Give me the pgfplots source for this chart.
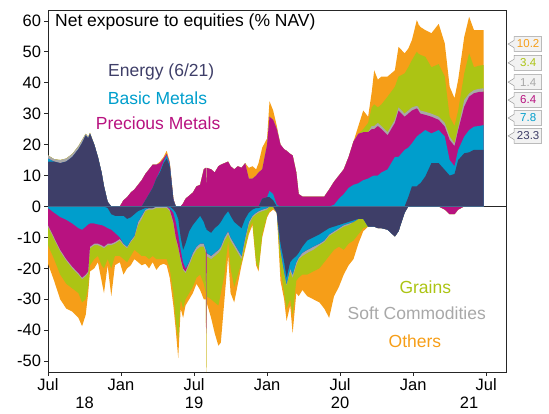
\documentclass[border=0pt]{standalone}
\usepackage{fontspec}
\setmainfont{Liberation Sans}
\usepackage{pgfplots}
\pgfplotsset{compat=1.18}
\usepackage{pgfplotstable}
\usetikzlibrary{calc}

\definecolor{cEn}{RGB}{62,62,104}
\definecolor{cBa}{RGB}{0,158,204}
\definecolor{cPr}{RGB}{184,18,128}
\definecolor{cSo}{RGB}{168,168,168}
\definecolor{cGr}{RGB}{172,196,20}
\definecolor{cOt}{RGB}{246,158,24}
\definecolor{cZero}{RGB}{70,105,140}

% cumulative boundaries: P1..P6 = tops of Energy, Basic Metals, Precious Metals, Soft, Grains, Others (long side)
% N1..N6 = bottoms of the same (short side); t = months since 1 Jul 2018
\pgfplotstableread{
t     P1   P2   P3   P4   P5   P6    N1    N2    N3    N4    N5    N6
0.0   14.5 15.5 15.5 16.5 16.5 16.5  0     -0.5  -6    -6.5  -12.5 -18.5
0.5   14.5 14.5 14.5 15.3 15.3 15.3  0     -2    -10   -10.5 -17   -24
1.0   14   14   14   15   15   15    0     -3.4  -14   -14.5 -22   -30
1.5   14.5 14.5 14.5 15.5 15.5 15.5  0     -4.3  -17   -17.5 -25   -33
2.0   16   16   16   17   17   17    0     -5.5  -19.5 -20   -26.5 -34
2.5   18.5 18.5 18.5 19.5 19.5 19.5  0     -7    -21.5 -22   -28   -36
2.8   20.5 20.5 20.5 21.5 21.5 21.5  0     -7.5  -23   -23.5 -31   -38.7
3.1   23   23   23   23.5 23.5 23.5  0     -6.5  -22   -22.5 -30   -35
3.3   22   22   22   22.5 22.5 22.5  0     -5.8  -21   -21.5 -26   -28
3.45  23.5 23.5 23.5 23.8 23.8 23.8  0     -5.5  -13   -13.5 -19   -21
3.8   20   20   20   20   20   20    0     -5.5  -12   -12.5 -17   -20
4.1   16   16   16   16   16   16    0     -5.8  -12   -12.5 -16   -18
4.4   11   11   11   11   11   11    0     -6    -12.5 -13   -19   -24
4.6   6.5  6.5  6.5  6.5  6.5  6.5   0     -6.3  -13   -13.5 -20   -28
4.9   1.5  1.5  1.5  1.5  1.5  1.5   -0.5  -7    -12   -12.5 -17   -19
5.2   0    0    0    0    0    0     -2.5  -7.5  -12   -12.5 -20   -29
5.5   0    0    0    0    0    0     -3    -8.5  -11.5 -12   -16   -19
5.9   0    0    0    0    0    0     -3    -10   -10.5 -11   -16   -18
6.2   0    0    2    2    2    2     -3    -12   -12   -12.5 -17   -22
6.5   0    0    3    3    3    3     -4    -13   -13   -13.5 -18   -20
6.8   0    0    4.5  4.5  4.5  4.5   -3.5  -11   -11   -11.5 -16   -19
7.1   0    0    5.5  5.5  5.5  5.5   -2.5  -9.5  -9.5  -10   -14   -17
7.4   0    0    7    7    7    7     -1.5  -5    -5    -6    -15   -18
7.7   0    0    8.5  8.5  8.5  8.5   -1    -3    -3    -4    -16   -19
8.0   2    2    10.5 10.5 10.5 10.5  -0.5  -1    -1    -1.5  -16   -18.5
8.3   4    4    12   12   12   12    -0.5  -0.5  -0.5  -1    -17   -20
8.6   6    6    13.5 13.5 13.5 13.5  -0.5  -0.5  -0.5  -1    -16   -18
8.9   9    9    13.5 13.5 13.5 13.5  0     0     0     -0.5  -17   -20.5
9.2   11   11.5 14   14   14   14.5  0     0     0     -0.5  -17   -19
9.5   14   14.5 15.5 15.5 15.5 16    0     0     0     -0.5  -17   -18.5
9.75  15.5 16.5 17   17   17   18    0     0     0     -0.5  -17   -19
10.0  13   13.5 14   14   14   14.5  0     -0.5  -1    -1.5  -20   -23
10.3  2    2    2.5  2.5  2.5  2.5   -1    -2    -5    -5.5  -28   -32
10.5  0    0    0    0    0    0     -2    -5    -10   -10.5 -37   -40
10.7  0    0    0    0    0    0     -4    -9    -13   -13.5 -43   -49
10.9  0    0    0    0    0    0     -10   -14   -17   -17.5 -30   -33
11.1  0    0    1    1    1    1     -14   -18   -20   -20.5 -33   -36
11.3  0    0    2.5  2.5  2.5  2.5   -12   -20   -21   -21.5 -30   -32
11.6  0    0    3.5  3.5  3.5  3.5   -8    -18   -18   -19   -28   -30
11.9  0    0    4.5  4.5  4.5  4.5   -6    -15   -15   -16   -26   -28
12.2  0    0    6.5  6.5  6.5  6.5   -4.5  -13   -13   -14   -23   -25
12.5  0    0    7    7    7    7     -3    -12   -12   -13   -22   -27
12.8  0    0    12   12   12   12    -5    -12   -12   -13   -25   -30
12.97 0    0    12.5 12.5 12.5 12.5  -7    -14   -14   -15   -28   -30
13.0  0    0    0    0    0    0     -7    -14   -41   -41   -53.5 -53.5
13.03 0    0    12.5 12.5 12.5 12.5  -7.5  -15   -15   -16   -29   -31
13.4  0    0    12   12   12   12    -8.5  -16   -16   -17   -30   -36
13.7  0    0    11   11   11   11    -7    -15   -15   -16   -31   -41
14.0  0    0    13   13   13   13    -6    -14   -14   -15   -32   -45
14.2  0    0    13.5 13.5 13.5 13.5  -5    -13   -13   -14   -28   -44
14.5  0    0    14   14   14   14    -3    -10   -10   -11   -22   -30
14.8  0    0    14.5 14.5 14.5 14.5  -1.5  -8    -8    -9    -11   -16
15.0  0    0    13   13   13   13    -3    -10   -10   -11   -20   -28
15.3  0    0    12   12   12   12    -5    -12   -12   -13   -26   -31
15.6  0    0    13   13   13   13    -6    -14   -14   -15   -22   -25
15.9  0    0    12.5 12.5 12.5 12.5  -7    -16   -16   -17   -18   -19
16.2  0    0    14   14   14   14    -4    -10   -10   -11   -13   -14
16.5  0    0    9    9    9    12.5  -2    -5    -5    -6    -8    -9
16.8  0    0    9    9    9    13    -1    -3    -3    -3.5  -5    -6
17.1  0    0    10   10   10   12    -0.5  -2    -2    -2.5  -18   -19
17.3  0    0    11   11   11   14    -0.5  -1.5  -1.5  -2    -20   -21
17.6  2.5  2.5  12   12   12   19    0     -1    -1    -1.5  -9    -10
18.0  3    3    20   20   20   22    0     -0.5  -0.5  -1    -3    -3.5
18.2  3    5    29   29   29   34    0     0     0     0     -1.5  -2
18.5  2    4    28   28   28   31    0     0     0     0     -0.5  -1
18.8  0    0.5  25   25   25   26    -2    -2    -2    -2    -2    -2
19.1  0    0    20   20   20   20    -12   -14   -14   -14.5 -20   -24
19.4  0    0    18.5 18.5 18.5 18.5  -18   -21   -21   -21.5 -28   -30
19.6  0    0    18   18   18   18    -23   -25   -25   -25.5 -33   -37
19.9  0    0    17   17   17   17    -18   -20   -20   -21   -30   -32
20.1  0    0    16.5 16.5 16.5 16.5  -17   -22   -22   -23   -35   -41
20.4  0    0    11   11   11   11    -16   -18   -18   -19   -24   -28
20.6  0    0    4    4    4    4     -15   -16.5 -16.5 -17   -23   -29
20.9  0    0    3.2  3.2  3.2  3.2   -13   -15   -15   -16   -22   -27
21.3  0    0    3.2  3.2  3.2  3.2   -11   -14   -14   -15   -22   -29
21.8  0    0    3.2  3.2  3.2  3.2   -10   -13   -13   -14   -21   -30
22.3  0    0    3.2  3.2  3.2  3.2   -9    -12   -12   -12.5 -20   -31
22.7  0    0    3.2  3.2  3.2  3.2   -8    -11   -11   -11.5 -18   -33
23.1  0    0    5.5  5.5  5.5  5.5   -7    -9    -9    -9.5  -16   -36
23.5  0    0.5  8    8    8    8     -6.5  -8    -8    -8.5  -14   -29
23.9  0    2.5  10   10   10   10    -6    -7    -7    -7.5  -13   -26
24.3  0    4    12   12   12   12    -5.5  -6    -6    -6.5  -14   -22
24.7  0    6    16   16   16   16    -5    -5.5  -5.5  -6    -12   -19
25.1  0    7    21   21   21   21    -4.5  -5    -5    -5    -11   -17
25.5  0    7.5  23.5 23.5 23.5 26    -4    -4    -4    -4    -9    -12
25.9  0    8.5  24   24   25   31    -4    -4    -4    -4    -7    -8
26.3  0    9    24   24   27   29    -6.5  -6.5  -6.5  -6.5  -6.5  -6.5
26.6  0    9.7  25   26   32   37    -6.5  -6.5  -6.5  -6.5  -6.5  -6.5
26.8  0    10   25   26   33   44    -6.5  -6.5  -6.5  -6.5  -6.5  -6.5
27.1  0    10   26   27   32   41    -7    -7    -7    -7    -7    -7
27.4  0    11   25   26   33   42    -7    -7    -7    -7    -7    -7
27.9  0    12   23   24   35.5 42    -7.5  -7.5  -7.5  -7.5  -7.5  -7.5
28.5  0    16   27   28   38.7 44    -9.7  -9.7  -9.7  -9.7  -9.7  -9.7
28.8  0    16   31   32   42   51.6  -8    -8    -8    -8    -8    -8
29.3  0    18.3 29   30   43   49.5  -2    -2    -2    -2    -2    -2
29.6  3    19   30   31   45   51    0     0     0     0     0     0
29.9  6.5  20.4 31   32   47.3 53.8  0     0     0     0     0     0
30.3  6.5  22.6 31.7 32.5 50   60.2  0     0     0     0     0     0
30.42 7    23   31.2 32.2 49.5 59.2  0     0     0     0     0     0
30.44 7    23   31   32   32   32    0     0     0     0     0     0
30.46 7.2  23.2 30.8 31.8 49.3 58.8  0     0     0     0     0     0
30.6  7.5  23.5 30   31   49   58    0     0     0     0     0     0
31.0  9.7  24.7 29.6 30.6 48.4 57    0     0     0     0     0     0
31.5  14   23.6 29   30   45   56    0     0     0     0     0     0
32.1  14   24.7 28   29   46   59    0     0     0     0     0     0
32.6  11.8 22.6 25.8 27   42   52.7  0     0     -1    -1    -1    -1
33.0  10   15   21.5 22.6 29   38.7  0     0     -2.5  -2.5  -2.5  -2.5
33.4  10.5 13   19.5 20.4 26   35    0     0     -2.5  -2.5  -2.5  -2.5
33.7  15   18.3 24.7 25.5 31   41    0     0     -1    -1    -1    -1
34.2  17.2 22.6 32.3 34.4 43   54.8  0     0     0     0     0     0
34.6  17.5 24.7 35.5 36.5 49.5 61.3  0     0     0     0     0     0
35.0  18.3 25.8 36.6 37.6 45   57    0     0     0     0     0     0
35.4  18.3 26   37   38   45.5 57    0     0     0     0     0     0
35.8  18.3 26.3 37.1 38.2 45.7 57    0     0     0     0     0     0
}\data

\newcommand{\callout}[3]{%
  \draw[draw=black!40, fill=black!5, line width=0.5bp]
    (axis cs:38.3,#1+2.4) -- (axis cs:40.55,#1+2.4) -- (axis cs:40.55,#1-2.4)
    -- (axis cs:38.3,#1-2.4) -- (axis cs:38.3,#1-1.2) -- (axis cs:37.8,#1)
    -- (axis cs:38.3,#1+1.2) -- cycle;
  \node[text=#2, font=\fontsize{11.5bp}{13bp}\selectfont, inner sep=0pt] at (axis cs:39.45,#1) {#3};
}

\begin{document}
\begin{tikzpicture}
\begin{axis}[
  scale only axis, width=458bp, height=362bp,
  xmin=0, xmax=37.63, ymin=-53.5, ymax=63.5,
  clip=false,
  axis line style={black!85, line width=0.8bp},
  tick style={black!85, line width=0.6bp},
  tick align=outside, major tick length=3.5bp,
  xtick pos=left, ytick pos=left,
  xtick={0,6,12,18,24,30,36},
  xticklabels={Jul,Jan,Jul,Jan,Jul,Jan,Jul},
  ytick={-50,-40,-30,-20,-10,0,10,20,30,40,50,60},
  extra x ticks={3,12,24,34.6},
  extra x tick labels={18,19,20,21},
  extra x tick style={tick style={draw=none}, major tick length=0pt, tick label style={yshift=-21bp}},
  tick label style={font=\fontsize{16.5bp}{18bp}\selectfont},
  /pgf/number format/assume math mode=true,
]
% long side, painted from outermost layer inwards
\addplot[draw=none, fill=cOt] table[x=t,y=P6]{\data} \closedcycle;
\addplot[draw=none, fill=cGr] table[x=t,y=P5]{\data} \closedcycle;
\addplot[draw=none, fill=cSo] table[x=t,y=P4]{\data} \closedcycle;
\addplot[draw=none, fill=cPr] table[x=t,y=P3]{\data} \closedcycle;
\addplot[draw=none, fill=cBa] table[x=t,y=P2]{\data} \closedcycle;
\addplot[draw=none, fill=cEn] table[x=t,y=P1]{\data} \closedcycle;
% short side
\addplot[draw=none, fill=cOt] table[x=t,y=N6]{\data} \closedcycle;
\addplot[draw=none, fill=cGr] table[x=t,y=N5]{\data} \closedcycle;
\addplot[draw=none, fill=cSo] table[x=t,y=N4]{\data} \closedcycle;
\addplot[draw=none, fill=cPr] table[x=t,y=N3]{\data} \closedcycle;
\addplot[draw=none, fill=cBa] table[x=t,y=N2]{\data} \closedcycle;
\addplot[draw=none, fill=cEn] table[x=t,y=N1]{\data} \closedcycle;

\draw[cZero, line width=0.8bp] (axis cs:0,0) -- (axis cs:35.8,0);
\draw[black!85, line width=0.8bp] (axis cs:35.8,0) -- (axis cs:37.63,0);

\node[anchor=west, font=\fontsize{17.5bp}{20bp}\selectfont] at (axis cs:0.3,59.6) {Net exposure to equities (\% NAV)};
\node[text=cEn, font=\fontsize{17.5bp}{20bp}\selectfont] at (axis cs:9.3,43.5) {Energy (6/21)};
\node[text=cBa, font=\fontsize{17.5bp}{20bp}\selectfont] at (axis cs:9.0,35.1) {Basic Metals};
\node[text=cPr, font=\fontsize{17.5bp}{20bp}\selectfont] at (axis cs:9.05,26.9) {Precious Metals};
\node[text=cGr, font=\fontsize{17.5bp}{20bp}\selectfont] at (axis cs:31.0,-26.2) {Grains};
\node[text=cSo, font=\fontsize{17.5bp}{20bp}\selectfont] at (axis cs:30.3,-34.6) {Soft Commodities};
\node[text=cOt, font=\fontsize{17.5bp}{20bp}\selectfont] at (axis cs:30.15,-43.6) {Others};

\callout{52.5}{cOt}{10.2}
\callout{46.4}{cGr}{3.4}
\callout{40.2}{cSo}{1.4}
\callout{34.4}{cPr}{6.4}
\callout{28.6}{cBa}{7.8}
\callout{22.8}{cEn}{23.3}

\coordinate (bl) at (rel axis cs:0,0);
\coordinate (tr) at (rel axis cs:1,1);
\end{axis}
\pgfresetboundingbox
\path[use as bounding box] ($(bl)+(-48bp,-42bp)$) rectangle ($(tr)+(43bp,10bp)$);
\end{tikzpicture}
\end{document}
